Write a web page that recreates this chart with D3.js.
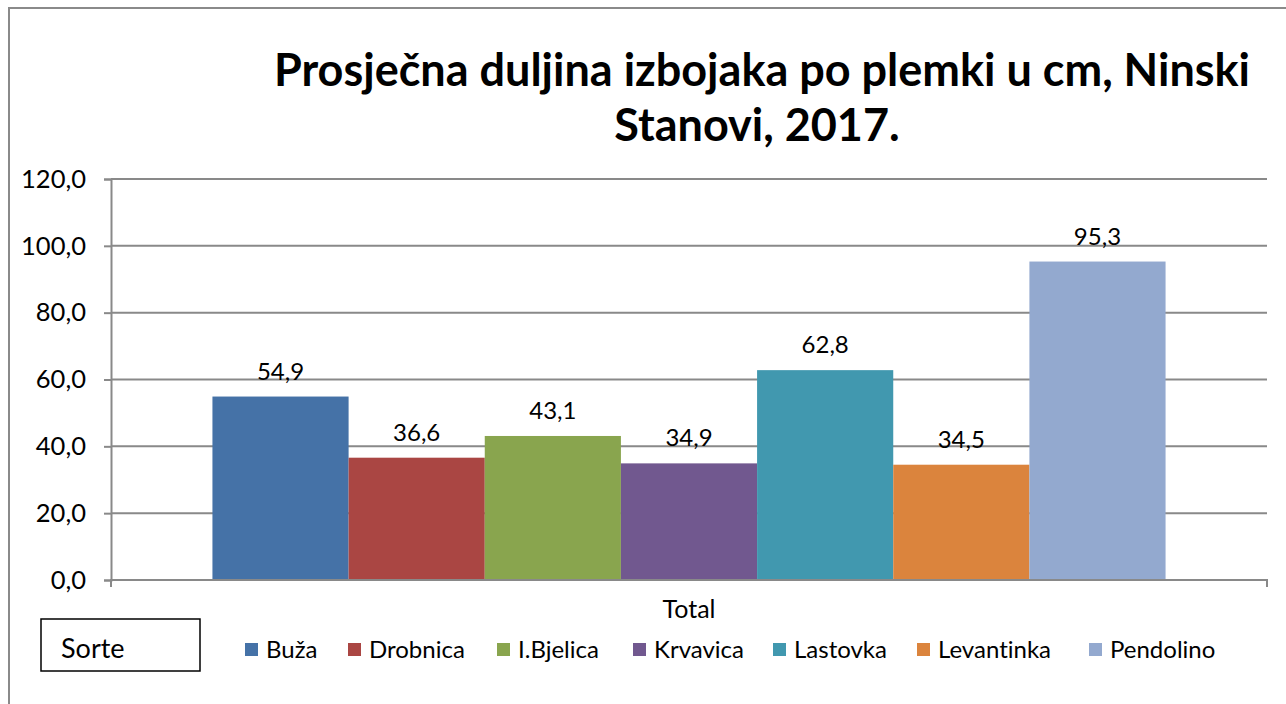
<!DOCTYPE html>
<html><head><meta charset="utf-8">
<script src="https://cdn.jsdelivr.net/npm/d3@7"></script>
<style>body{margin:0;background:#fff}svg{display:block}text{font-variant-ligatures:none}</style>
</head><body>
<svg id="c" width="1286" height="704"></svg>
<script>
const categories = ["Total"];
const series = ["Buža","Drobnica","I.Bjelica","Krvavica","Lastovka","Levantinka","Pendolino"];
const values = [54.9, 36.6, 43.1, 34.9, 62.8, 34.5, 95.3];
const colors = ["#4572A7","#AA4643","#89A54E","#71588F","#4198AF","#DB843D","#93A9CF"];
const yTicks = [0,20,40,60,80,100,120];
const titleLines = ["Prosječna duljina izbojaka po plemki u cm, Ninski","Stanovi, 2017."];
const legendTitle = "Sorte";

(function(){
const FONT = "Lato, 'Liberation Sans', sans-serif";
const svg = d3.select("#c");
const loc = d3.formatLocale({decimal:",",thousands:".",grouping:[3],currency:["",""]});
const fmt = loc.format(".1f");

svg.append("rect").attr("x",9).attr("y",8).attr("width",1300).attr("height",720)
  .attr("fill","none").attr("stroke","#8a8a8a").attr("stroke-width",2);

const pL=111, pR=1267, pT=179, pB=580;
const y = d3.scaleLinear().domain([0,120]).range([pB,pT]);
const x0 = d3.scaleBand().domain(categories).range([pL,pR]).paddingInner(0).paddingOuter(0);
const x1 = d3.scaleBand().domain(series).range([0,x0.bandwidth()]).paddingInner(0).paddingOuter(0.745);

svg.append("g").selectAll("line").data(yTicks.filter(d=>d>0)).join("line")
  .attr("x1",pL).attr("x2",pR).attr("y1",d=>y(d)).attr("y2",d=>y(d))
  .attr("stroke","#898989").attr("stroke-width",2);

const g = svg.append("g").attr("transform",`translate(${x0("Total")},0)`);
g.selectAll("rect").data(series).join("rect")
  .attr("x",d=>x1(d)).attr("width",x1.bandwidth())
  .attr("y",(d,i)=>y(values[i])).attr("height",(d,i)=>y(0)-y(values[i]))
  .attr("fill",(d,i)=>colors[i]);
g.selectAll("text").data(series).join("text")
  .attr("x",d=>x1(d)+x1.bandwidth()/2).attr("y",(d,i)=>y(values[i])-17)
  .attr("text-anchor","middle").attr("font-family",FONT).attr("font-size",24).attr("fill","#000")
  .text((d,i)=>fmt(values[i]));

const ya = svg.append("g").attr("transform",`translate(${pL},0)`)
  .call(d3.axisLeft(y).tickValues(yTicks).tickFormat(fmt).tickSize(7).tickPadding(18));
ya.select(".domain").attr("stroke","#898989").attr("stroke-width",2);
ya.selectAll(".tick line").attr("stroke","#898989").attr("stroke-width",2);
ya.selectAll(".tick text").attr("font-family",FONT).attr("font-size",25.5).attr("fill","#000");

const xa = svg.append("g").attr("transform",`translate(0,${pB})`)
  .call(d3.axisBottom(x0).tickSize(0).tickPadding(20));
xa.select(".domain").attr("stroke","#898989").attr("stroke-width",2).attr("d",`M${pL},7V0H${pR}V7`);
xa.selectAll(".tick text").attr("font-family",FONT).attr("font-size",25).attr("fill","#000")
  .attr("x",689 - (pL+pR)/2);

svg.append("g").selectAll("text").data(titleLines).join("text")
  .attr("x",(d,i)=>i===0?762:757).attr("y",(d,i)=>86+i*55)
  .attr("text-anchor","middle").attr("font-family",FONT).attr("font-weight","bold")
  .attr("font-size",45).attr("fill","#000").text(d=>d);

svg.append("rect").attr("x",41).attr("y",619).attr("width",159).attr("height",52)
  .attr("fill","none").attr("stroke","#000").attr("stroke-width",1.5);
svg.append("text").attr("x",61).attr("y",658).attr("font-family",FONT).attr("font-size",27)
  .attr("fill","#000").text(legendTitle);

const legendX = [245,348,497,633,773,917,1089];
const lg = svg.append("g").selectAll("g").data(series).join("g")
  .attr("transform",(d,i)=>`translate(${legendX[i]},0)`);
lg.append("rect").attr("x",0).attr("y",643).attr("width",13).attr("height",13).attr("fill",(d,i)=>colors[i]);
lg.append("text").attr("x",21).attr("y",658).attr("font-family",FONT).attr("font-size",24)
  .attr("fill","#000").text(d=>d);
})();
</script>
</body></html>
